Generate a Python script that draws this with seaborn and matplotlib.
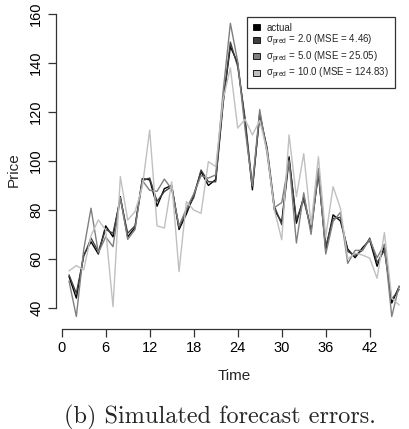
import numpy as np
import pandas as pd
import matplotlib
matplotlib.use("Agg")
import matplotlib.pyplot as plt
from matplotlib.patches import Patch
import seaborn as sns

time = list(range(1, 47))
actual = [52.8, 44.0, 61.6, 67.0, 62.0, 73.5, 69.0, 85.4, 69.0, 72.8,
          92.8, 92.3, 81.5, 88.7, 90.0, 72.0, 78.3, 86.0, 95.6, 90.0,
          92.4, 124.0, 146.7, 139.9, 116.0, 88.2, 119.5, 104.5, 80.0, 75.0,
          101.7, 74.6, 85.4, 71.5, 95.6, 63.7, 78.0, 75.5, 64.0, 60.5,
          64.5, 67.7, 57.0, 65.0, 42.0, 48.7]
pred_s2 = [53.5, 46.0, 61.0, 68.5, 63.0, 72.0, 70.5, 84.5, 70.5, 73.5,
           92.0, 93.0, 83.5, 87.5, 89.5, 72.8, 79.5, 85.0, 96.3, 91.5,
           91.5, 123.0, 148.5, 138.5, 117.5, 89.5, 118.5, 105.5, 81.5, 74.0,
           100.5, 76.0, 84.0, 72.5, 94.5, 65.0, 76.5, 77.0, 63.0, 61.5,
           63.5, 68.5, 58.5, 63.5, 43.5, 47.5]
pred_s5 = [51.0, 36.5, 63.7, 80.7, 62.5, 69.0, 65.0, 85.0, 68.0, 72.0,
           92.0, 88.0, 87.6, 92.6, 88.5, 73.5, 80.5, 86.5, 94.0, 93.0,
           94.3, 128.0, 156.2, 140.5, 113.0, 90.0, 121.0, 103.0, 81.0, 83.0,
           100.0, 66.5, 87.0, 70.0, 97.0, 62.0, 75.3, 79.0, 58.2, 63.5,
           63.5, 68.0, 60.5, 66.0, 36.5, 49.0]
pred_s10 = [55.1, 57.3, 55.5, 69.5, 75.9, 71.8, 40.5, 93.6, 75.9, 79.3,
            89.5, 112.6, 73.5, 72.6, 91.5, 54.8, 83.4, 80.0, 78.6, 99.7,
            97.7, 125.0, 138.0, 113.4, 117.0, 110.6, 116.5, 104.0, 80.0, 67.8,
            110.6, 85.4, 103.0, 74.0, 101.7, 69.1, 89.5, 80.7, 60.0, 62.3,
            61.6, 60.3, 52.1, 70.8, 44.0, 41.2]

labels = ["actual",
          "σ$_{\\mathrm{pred}}$ = 2.0 (MSE = 4.46)",
          "σ$_{\\mathrm{pred}}$ = 5.0 (MSE = 25.05)",
          "σ$_{\\mathrm{pred}}$ = 10.0 (MSE = 124.83)"]
colors = ["#000000", "#404040", "#808080", "#c0c0c0"]
x_ticks = [0, 6, 12, 18, 24, 30, 36, 42]
y_ticks = [40, 60, 80, 100, 120, 140, 160]

sns.set_theme(style="ticks")
plt.rcParams["font.family"] = ["Liberation Sans", "DejaVu Sans"]
plt.rcParams["mathtext.fontset"] = "custom"
plt.rcParams["mathtext.rm"] = "Liberation Sans"
plt.rcParams["mathtext.it"] = "Liberation Sans:italic"

fig = plt.figure(figsize=(4.10, 4.29), dpi=100)
ax = fig.add_axes([55.8 / 410, 100 / 429, (412 - 55.8) / 410, 318 / 429])

series = [actual, pred_s2, pred_s5, pred_s10]
for vals, col in zip(series, colors):
    df = pd.DataFrame({"Time": time, "Price": vals})
    sns.lineplot(data=df, x="Time", y="Price", color=col, lw=1.0, ax=ax)

ax.set_xlim(-0.8, 47.76)
ax.set_ylim(31.4, 161.2)
ax.set_xticks(x_ticks)
ax.set_yticks(y_ticks)
ax.set_yticklabels([str(v) for v in y_ticks], rotation=90, va="center")
for s in ["top", "right"]:
    ax.spines[s].set_visible(False)
ax.spines["left"].set_bounds(40, 160)
ax.spines["bottom"].set_bounds(0, 42)
for s in ["left", "bottom"]:
    ax.spines[s].set_linewidth(0.9)
    ax.spines[s].set_color("#333333")
ax.tick_params(axis="both", direction="out", length=6, width=0.9,
               labelsize=10.5, colors="#333333", labelcolor="black", pad=3)
ax.set_xlabel("Time", fontsize=11, labelpad=10)
ax.set_ylabel("Price", fontsize=11, labelpad=6)

handles = [Patch(facecolor=c, edgecolor="black", lw=0.6) for c in colors]
leg = ax.legend(handles, labels, loc="upper left",
                bbox_to_anchor=(247 / 410, 1 - 17 / 429),
                bbox_transform=fig.transFigure, fontsize=7,
                frameon=True, fancybox=False, borderpad=0.6,
                handlelength=0.75, handleheight=0.6, handletextpad=0.65,
                labelspacing=0.0, borderaxespad=0)
leg.get_frame().set_edgecolor("black")
leg.get_frame().set_linewidth(0.9)

fig.text(220 / 410, 1 - 417 / 429, "(b) Simulated forecast errors.",
         family="cmr10", fontsize=17.5, ha="center", va="center")

fig.savefig("out.png", dpi=100)
